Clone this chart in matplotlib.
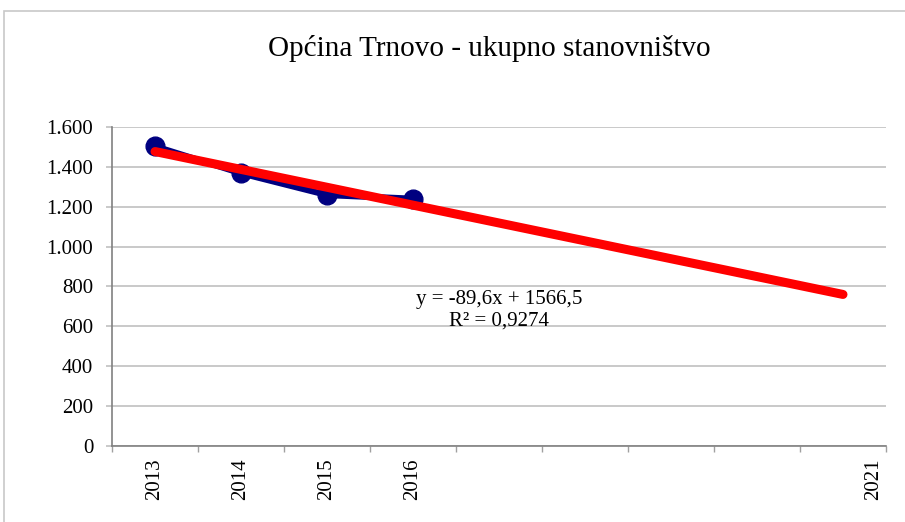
import matplotlib.pyplot as plt
from matplotlib.ticker import FixedLocator, FuncFormatter, NullFormatter
from matplotlib.patches import Rectangle
import matplotlib.transforms as mtransforms

plt.rcParams['font.family'] = ['Liberation Serif', 'DejaVu Serif']

# data
years = ["2013", "2014", "2015", "2016", "", "", "", "", "2021"]
population = [1503, 1368, 1259, 1240]
trend_slope = -89.6
trend_intercept = 1566.5
trend_label = "y = -89,6x + 1566,5\nR² = 0,9274"
title = "Općina Trnovo - ukupno stanovništvo"

positions = list(range(1, len(years) + 1))

fig = plt.figure(figsize=(9.05, 5.22), dpi=100)
ax = fig.add_axes([0.1238, 0.1456, 0.8552, 0.6111])

# outer chart border
fig.patches.append(Rectangle((4 / 905, -0.01), 1.0, (522 - 11) / 522 + 0.01,
                             transform=fig.transFigure, fill=False,
                             edgecolor="#c8c8c8", linewidth=1.2))

ax.plot(positions[:len(population)], population, color="#000080", linewidth=4.5,
        marker="o", markersize=13.5, zorder=3)

# linear trend line over all categories
tx = [positions[0], positions[-1]]
ty = [trend_slope * x + trend_intercept for x in tx]
ax.plot(tx, ty, color="#ff0000", linewidth=6.5, solid_capstyle="round", zorder=4)

ax.text(5.0, 680, trend_label, ha="center", va="center", fontsize=15,
        linespacing=1.15, zorder=5)

ax.set_xlim(0.5, len(years) + 0.5)
ax.set_ylim(0, 1600)
ax.set_yticks(range(0, 1601, 200))
ax.yaxis.set_major_formatter(FuncFormatter(lambda v, p: f"{v:,.0f}".replace(",", ".")))
ax.grid(axis="y", color="#c0c0c0", linewidth=1.2)
ax.set_axisbelow(True)

ax.xaxis.set_major_locator(FixedLocator([p - 0.5 for p in positions] + [positions[-1] + 0.5]))
ax.xaxis.set_major_formatter(NullFormatter())
ax.xaxis.set_minor_locator(FixedLocator(positions))
ax.set_xticklabels(years, minor=True, rotation=90, va="top", ha="center")
ax.tick_params(axis="x", which="major", length=4.5, color="#a0a0a0", width=1)
ax.tick_params(axis="x", which="minor", length=0, labelsize=15, pad=9)
ax.tick_params(axis="y", length=4.5, color="#c0c0c0", width=1.2, labelsize=15, pad=9)

# last label sits near the right edge as in the original
lbl = ax.get_xticklabels(minor=True)[-1]
lbl.set_transform(lbl.get_transform() + mtransforms.ScaledTranslation(0.31, 0, fig.dpi_scale_trans))

for s in ["top", "right"]:
    ax.spines[s].set_visible(False)
for s in ["left", "bottom"]:
    ax.spines[s].set_color("#808080")
    ax.spines[s].set_linewidth(1.2)

fig.text(489 / 905, 1 - 48 / 522, title, ha="center", va="center", fontsize=21)

fig.savefig("out.png", dpi=100)
